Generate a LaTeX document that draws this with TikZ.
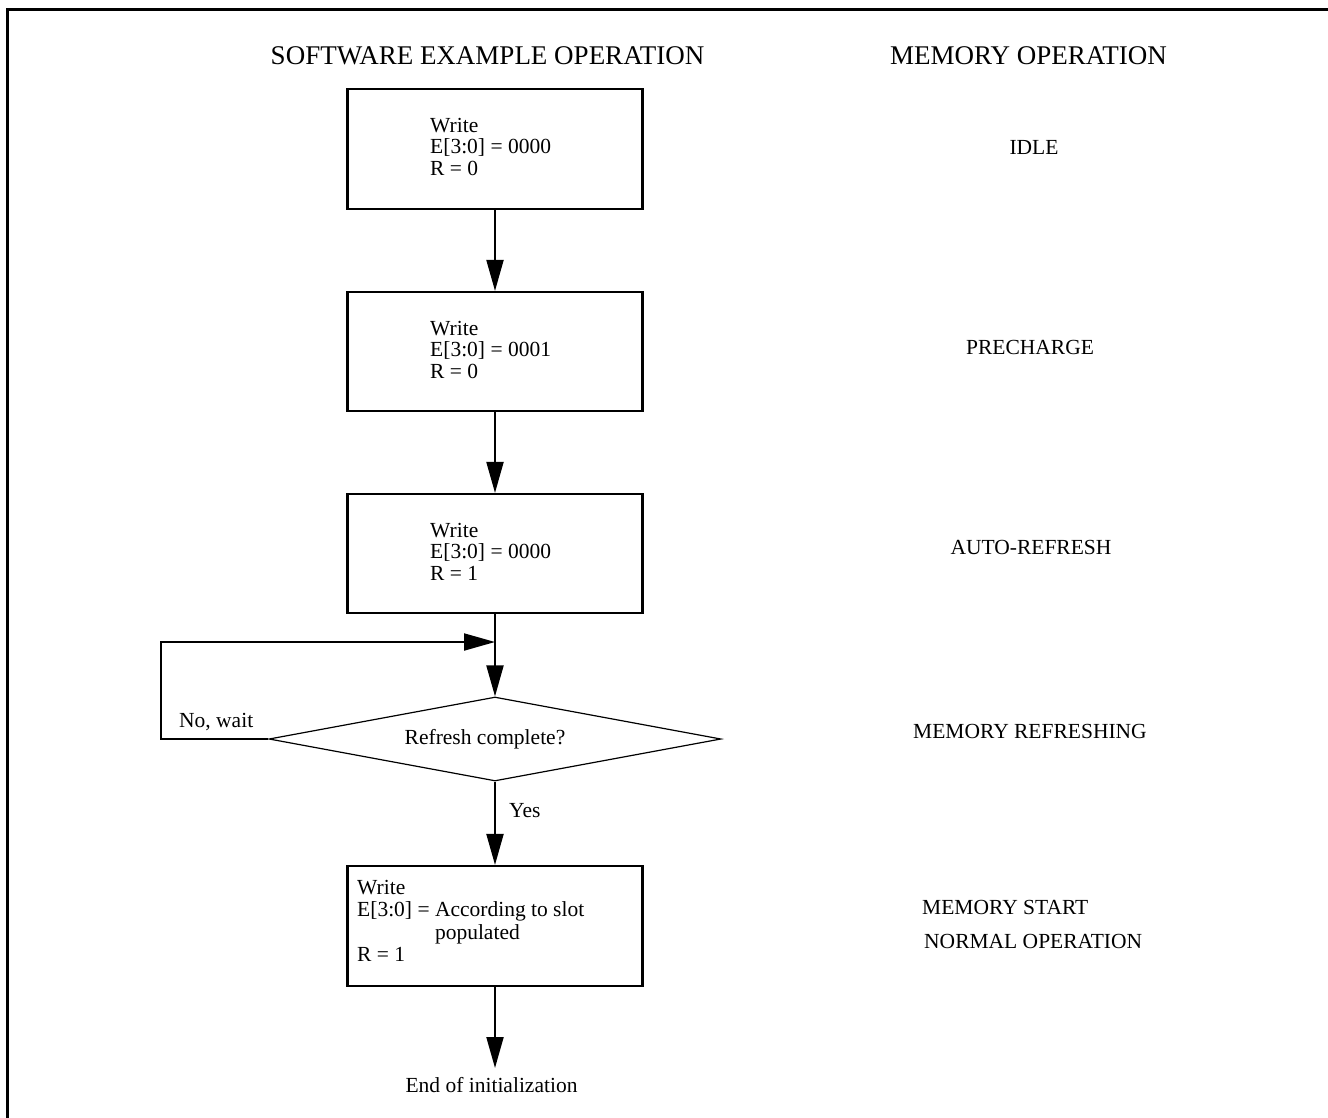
\documentclass[tikz,border=0pt]{standalone}
\usepackage{fontspec}
\setmainfont{Liberation Serif}
\usetikzlibrary{arrows.meta,shapes.geometric}
\tikzset{
  stepbox/.style={draw,line width=2.2pt,minimum width=295pt,inner sep=0pt},
  boxtext/.style={anchor=north west,align=left,inner sep=0pt,font=\fontsize{21.5}{21.5}\selectfont},
  lbl/.style={anchor=base,inner sep=0pt,font=\fontsize{21.5}{21.5}\selectfont},
  ttl/.style={anchor=base,inner sep=0pt,font=\fontsize{27}{27}\selectfont},
  arr/.style={line width=2pt,-{Triangle[length=31pt,width=17pt]}},
  decision/.style={diamond,draw,line width=1.2pt,minimum width=452pt,minimum height=84pt,inner sep=0pt}
}
\begin{document}
\begin{tikzpicture}[x=1pt,y=-1pt]
\useasboundingbox (0,0) rectangle (1328,1117);
% frame
\draw[line width=3pt] (7,1130) -- (7,9) -- (1340,9);
% titles
\node[ttl] (t1) at (487.5,64.5) {SOFTWARE EXAMPLE OPERATION};
\node[ttl] (t2) at (1028.5,64.5) {MEMORY OPERATION};
% boxes
\node[stepbox,minimum height=120pt] (b1) at (495,149) {};
\node[stepbox,minimum height=119pt] (b2) at (495,351.5) {};
\node[stepbox,minimum height=119pt] (b3) at (495,553.5) {};
\node[decision] (dia) at (495,739) {};
\node[stepbox,minimum height=120pt] (b4) at (495,926) {};
% box texts
\node[boxtext] (x1) at (430,118) {Write\\E[3:0] = 0000\\R = 0};
\node[boxtext] (x2) at (430,321) {Write\\E[3:0] = 0001\\R = 0};
\node[boxtext] (x3) at (430,523) {Write\\E[3:0] = 0000\\R = 1};
\node[boxtext,font=\fontsize{21.5}{22.3}\selectfont] (x4) at (357,880) {Write\\E[3:0] = According to slot\\\phantom{E[3:0] = }populated\\R = 1};
\node[lbl] (dq) at (485,744) {Refresh complete?};
\node[lbl,anchor=base west] (no) at (179,727) {No, wait};
\node[lbl,anchor=base west] (yes) at (509,817) {Yes};
\node[lbl] (endt) at (491.5,1092) {End of initialization};
% right labels
\node[lbl] (m1) at (1034,154) {IDLE};
\node[lbl] (m2) at (1030,354) {PRECHARGE};
\node[lbl] (m3) at (1031,554) {AUTO-REFRESH};
\node[lbl] (m4) at (1030,738) {MEMORY REFRESHING};
\node[lbl,anchor=base west] (m5) at (922,914) {MEMORY START};
\node[lbl,anchor=base west] (m6) at (924,948) {NORMAL OPERATION};
% connectors
\coordinate (loopc) at (161,642);
\coordinate (join) at (495,642);
\coordinate (endpt) at (495,1068);
\draw[arr] (b1.south) -- (b2.north);
\draw[arr] (b2.south) -- (b3.north);
\draw[arr] (b3.south) -- (dia.north);
\draw[arr] (dia.west) -| (loopc) -- (join);
\draw[arr] (dia.south) -- (b4.north);
\draw[arr] (b4.south) -- (endpt);
\end{tikzpicture}
\end{document}
